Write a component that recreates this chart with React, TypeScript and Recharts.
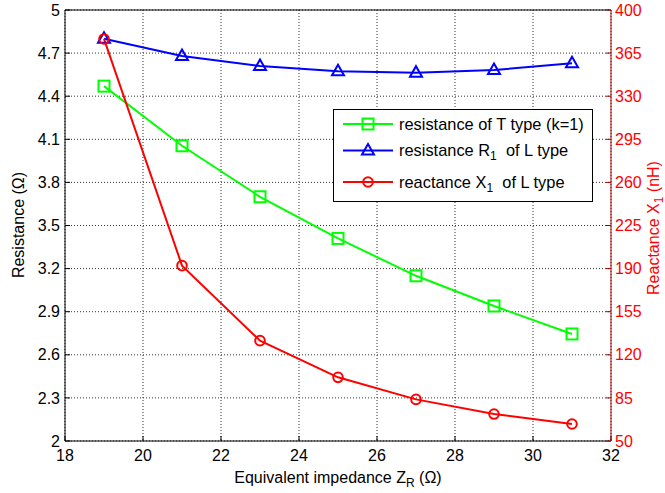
import React from 'react';
import { LineChart, Line, XAxis, YAxis, CartesianGrid, ReferenceLine, Legend } from 'recharts';

const impedance = [19, 21, 23, 25, 27, 29, 31];
const resistanceT = [4.47, 4.055, 3.70, 3.41, 3.15, 2.94, 2.745];
const resistanceL = [4.80, 4.68, 4.61, 4.573, 4.564, 4.582, 4.63];
const reactanceL = [376.5, 192.4, 131.5, 101.7, 83.8, 71.9, 63.8];

const xTicks = [18, 20, 22, 24, 26, 28, 30, 32];
const leftTicks = [2, 2.3, 2.6, 2.9, 3.2, 3.5, 3.8, 4.1, 4.4, 4.7, 5];
const rightTicks = [50, 85, 120, 155, 190, 225, 260, 295, 330, 365, 400];

const data = impedance.map((x, i) => ({
  x,
  rt: resistanceT[i],
  rl: resistanceL[i],
  xl: reactanceL[i],
}));

const GREEN = '#00ff00';
const BLUE = '#0000ff';
const RED = '#ff0000';
const FONT = "'Liberation Sans', Arial, Helvetica, sans-serif";

const SquareDot = (props: any) => {
  const { cx, cy, index } = props;
  if (cx == null || cy == null) return null;
  return <rect key={`s${index}`} x={cx - 5.5} y={cy - 5.5} width={11} height={11} fill="none" stroke={GREEN} strokeWidth={2} />;
};
const TriDot = (props: any) => {
  const { cx, cy, index } = props;
  if (cx == null || cy == null) return null;
  const p = `${cx},${cy - 6.5} ${cx + 6},${cy + 4} ${cx - 6},${cy + 4}`;
  return <polygon key={`t${index}`} points={p} fill="none" stroke={BLUE} strokeWidth={2} />;
};
const CircDot = (props: any) => {
  const { cx, cy, index } = props;
  if (cx == null || cy == null) return null;
  return <circle key={`c${index}`} cx={cx} cy={cy} r={4.8} fill="none" stroke={RED} strokeWidth={2} />;
};

const XLabel = (props: any) => {
  const vb = props.viewBox || {};
  const cx = vb.x + vb.width / 2;
  return (
    <text x={cx} y={483} textAnchor="middle" fontSize={16} fill="#000" fontFamily={FONT}>
      Equivalent impedance Z
      <tspan dy={4} fontSize={12}>R</tspan>
      <tspan dy={-4}> (Ω)</tspan>
    </text>
  );
};

const LeftLabel = () => (
  <text x={18} y={225} transform="rotate(-90, 18, 225)" textAnchor="middle" dy="0.35em" fontSize={16} fill="#000" fontFamily={FONT}>
    Resistance (Ω)
  </text>
);

const RightLabel = () => (
  <text x={653} y={228} transform="rotate(-90, 653, 228)" textAnchor="middle" dy="0.35em" fontSize={16} fill={RED} fontFamily={FONT}>
    Reactance X
    <tspan dy={4} fontSize={12}>1</tspan>
    <tspan dy={-4}> (nH)</tspan>
  </text>
);

const LegendBox = () => {
  const rows = [
    { color: GREEN, kind: 'sq', y: 15, text: <>resistance of T type (k=1)</> },
    { color: BLUE, kind: 'tri', y: 41.5, text: <>resistance R<tspan dy={4} fontSize={12}>1</tspan><tspan dy={-4}>  of L type</tspan></> },
    { color: RED, kind: 'circ', y: 73, text: <>reactance X<tspan dy={4} fontSize={12}>1</tspan><tspan dy={-4}>  of L type</tspan></> },
  ];
  return (
    <svg width={260} height={93} style={{ display: 'block' }}>
      <rect x={0.5} y={0.5} width={259} height={92} fill="#fff" stroke="#000" strokeWidth={1} />
      {rows.map((r, i) => (
        <g key={i}>
          <line x1={10} x2={60} y1={r.y} y2={r.y} stroke={r.color} strokeWidth={2} />
          {r.kind === 'sq' && <rect x={35 - 5.5} y={r.y - 5.5} width={11} height={11} fill="none" stroke={r.color} strokeWidth={2} />}
          {r.kind === 'tri' && <polygon points={`35,${r.y - 6.5} 41,${r.y + 4} 29,${r.y + 4}`} fill="none" stroke={r.color} strokeWidth={2} />}
          {r.kind === 'circ' && <circle cx={35} cy={r.y} r={4.8} fill="none" stroke={r.color} strokeWidth={2} />}
          <text x={66} y={r.y} dy="0.35em" fontSize={16.4} fill="#000" fontFamily={FONT} style={{ whiteSpace: 'pre' }}>{r.text}</text>
        </g>
      ))}
    </svg>
  );
};

export default function App() {
  return (
    <div style={{ position: 'absolute', left: 0, top: 0, width: 665, height: 493, background: '#fff', fontFamily: FONT }}>
      <LineChart width={665} height={493} data={data} margin={{ top: 10, right: 0, bottom: 0, left: 0 }}>
        <CartesianGrid yAxisId="left" stroke="#333" strokeDasharray="1 2" strokeWidth={1} />
        <XAxis
          dataKey="x"
          type="number"
          domain={[18, 32]}
          ticks={xTicks}
          height={52}
          tickSize={-5}
          tickMargin={14}
          stroke="#000"
          tick={{ fontSize: 16, fill: '#000' }}
          label={<XLabel />}
        />
        <YAxis
          yAxisId="left"
          domain={[2, 5]}
          ticks={leftTicks}
          width={65}
          tickSize={-5}
          tickMargin={10}
          stroke="#000"
          tick={{ fontSize: 16, fill: '#000' }}
          interval={0}
          label={<LeftLabel />}
        />
        <YAxis
          yAxisId="right"
          orientation="right"
          domain={[50, 400]}
          ticks={rightTicks}
          width={54}
          tickSize={-5}
          tickMargin={9}
          stroke="#a00000"
          tick={{ fontSize: 16, fill: RED }}
          interval={0}
          label={<RightLabel />}
        />
        <ReferenceLine yAxisId="left" y={5} stroke="#000" strokeWidth={1} />
        <Line yAxisId="left" dataKey="rt" stroke={GREEN} strokeWidth={2} dot={<SquareDot />} isAnimationActive={false} />
        <Line yAxisId="left" dataKey="rl" stroke={BLUE} strokeWidth={2} dot={<TriDot />} isAnimationActive={false} />
        <Line yAxisId="right" dataKey="xl" stroke={RED} strokeWidth={2} dot={<CircDot />} isAnimationActive={false} />
        <Legend
          layout="horizontal"
          verticalAlign="middle"
          align="center"
          content={<LegendBox />}
          wrapperStyle={{ position: 'absolute', left: 333, top: 109, width: 260, height: 93 }}
        />
      </LineChart>
    </div>
  );
}
